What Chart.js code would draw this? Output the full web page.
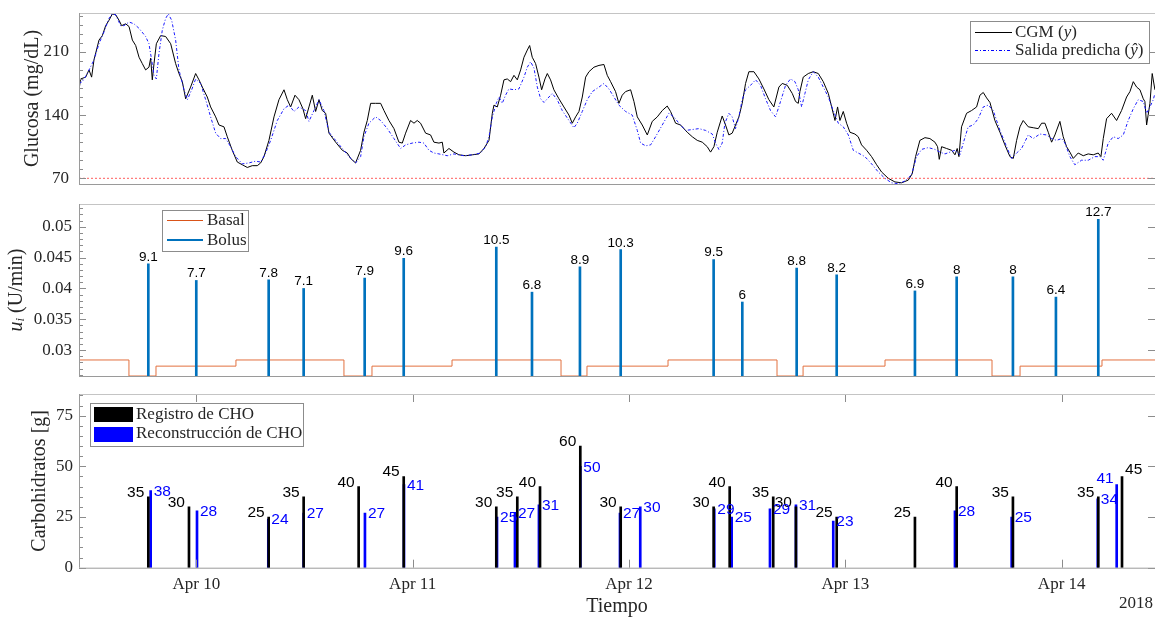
<!DOCTYPE html>
<html>
<head>
<meta charset="utf-8">
<script src="https://cdn.jsdelivr.net/npm/chart.js@4.4.0/dist/chart.umd.min.js"></script>
<style>
  body { margin: 0; background: #fff; }
  canvas { position: absolute; left: 0; }
</style>
</head>
<body>
<canvas id="glucose" width="1155" height="195" style="top:0px"></canvas>
<canvas id="insulin" width="1155" height="195" style="top:195px"></canvas>
<canvas id="carbs" width="1155" height="227" style="top:390px"></canvas>
<script>
// time axis: hours since Apr 9 00:00
const tMin = 10.99, tMax = 130.35;
const dayTicks = [24, 48, 72, 96, 120];
const dayLabels = ['Apr 10', 'Apr 11', 'Apr 12', 'Apr 13', 'Apr 14'];
const yearLabel = '2018';
const hypoLimit = 70;

const glucoseTickLabels = [70, 140, 210];
const uTickLabels = [0.03, 0.035, 0.04, 0.045, 0.05];
const choTickLabels = [0, 25, 50, 75];

// CGM (y)
const cgmTime = [10.99,11.17,11.73,12.10,12.39,12.65,13.21,13.58,13.95,14.32,14.69,15.06,15.43,15.72,16.17,16.54,16.91,17.28,17.65,18.01,
  18.38,18.75,18.94,19.12,19.31,19.57,20.05,20.60,21.16,21.71,22.08,22.45,22.82,23.37,23.93,24.30,24.67,25.22,25.59,26.15,
  26.52,27.07,27.44,27.99,28.55,29.10,29.66,30.21,30.77,31.14,31.51,32.06,32.62,33.17,33.73,34.10,34.47,34.95,35.39,35.83,
  36.13,36.50,36.87,37.24,37.61,37.98,38.35,38.72,39.46,40.20,40.75,41.12,41.67,42.23,42.60,42.97,43.34,43.89,44.45,44.82,
  45.37,45.93,46.48,46.85,47.22,47.77,48.15,48.51,48.88,49.44,49.99,50.36,50.92,
  51.29,51.47,52.03,52.58,53.14,53.88,54.62,55.36,55.91,56.47,56.84,57.02,57.39,57.76,58.13,58.50,58.87,59.24,59.61,59.98,
  60.35,60.72,60.98,61.27,61.64,62.01,62.31,62.68,62.94,63.30,63.67,64.23,64.78,65.34,65.71,66.08,66.45,66.82,67.19,67.56,
  68.11,68.67,69.22,69.59,69.96,70.51,70.88,71.25,71.62,72.18,72.55,72.92,73.47,74.03,74.58,75.14,75.69,76.24,76.61,77.17,
  77.72,78.46,79.02,79.57,80.13,80.68,81.05,81.42,81.79,82.34,82.71,83.08,83.45,83.82,84.19,84.56,84.93,85.30,85.86,86.41,
  86.96,87.52,88.07,88.63,89.00,89.55,90.11,90.48,
  90.78,90.96,91.33,91.89,92.44,93.00,93.55,94.11,94.48,94.85,95.14,95.40,95.77,96.14,96.51,97.06,97.43,97.80,98.36,98.91,
  99.47,100.02,100.76,101.50,102.24,102.98,103.42,103.79,104.27,104.83,105.38,105.94,106.23,106.42,106.68,107.23,107.79,108.16,108.41,108.60,
  108.89,109.45,110.00,110.56,110.93,111.30,111.67,112.04,112.59,113.15,113.70,114.26,114.63,115.00,115.37,115.73,116.29,116.84,117.40,117.77,
  118.14,118.51,118.88,119.25,119.80,120.17,120.54,120.91,121.28,121.83,122.39,122.94,123.50,124.05,124.35,124.61,124.98,125.53,126.09,126.64,
  127.20,127.57,127.94,128.31,128.68,129.05,129.23,129.42,129.79,130.04,130.34];
const cgmValue = [168,180,182,190,182,201,223,228,239,245,252,251,245,239,241,238,223,217,204,197,
  190,193,203,179,197,219,228,227,219,197,186,177,158,171,186,179,171,160,149,138,
  129,127,116,101,88,85,82,84,84,87,94,112,138,157,168,157,149,162,157,147,
  136,149,162,144,157,145,142,120,110,101,98,92,87,101,121,134,153,153,153,145,
  134,125,110,109,120,134,131,134,131,120,118,110,109,
  110,98,103,99,96,95,96,97,103,112,142,151,149,162,179,180,177,184,179,190,
  204,212,217,204,197,182,168,180,186,179,168,158,149,140,131,138,144,160,182,188,
  193,195,196,184,177,166,153,162,166,168,155,138,129,118,133,138,145,150,144,131,
  129,121,116,112,110,105,99,105,121,139,129,118,120,129,138,153,175,188,188,180,
  169,157,149,171,175,173,164,155,
  153,166,182,186,188,186,177,164,149,134,149,134,144,131,121,119,116,107,101,94,
  85,77,70,66,65,68,75,94,112,115,114,110,105,91,105,103,101,96,103,94,
  127,142,145,149,162,165,159,154,134,121,107,94,92,112,127,134,127,126,125,131,
  131,121,110,118,133,116,105,99,92,98,95,97,96,98,94,114,136,142,134,145,
  160,166,177,171,168,158,155,129,153,186,168];

// Salida predicha (y hat)
const predTime = [10.99,11.36,11.91,12.65,13.21,13.76,14.32,14.69,15.06,15.61,15.98,16.54,17.09,17.65,18.38,18.75,19.05,19.31,19.57,19.86,
  20.23,20.60,20.90,21.27,21.71,22.08,22.64,23.01,23.49,23.93,24.48,25.04,25.59,26.15,26.70,27.26,27.81,28.37,29.10,29.84,
  30.58,31.14,31.69,32.25,32.99,33.73,34.28,34.84,35.39,36.13,36.50,37.05,37.61,38.16,38.72,39.46,40.20,40.94,41.67,42.23,
  42.60,43.15,43.89,44.45,45.19,45.93,46.67,47.22,47.96,48.70,49.25,49.81,50.36,50.92,
  51.84,52.58,53.69,54.62,55.54,56.10,56.47,56.84,57.28,57.58,57.94,58.31,58.68,59.24,59.79,60.35,60.72,61.09,61.46,61.83,
  62.20,62.57,62.94,63.49,64.04,64.60,65.34,65.89,66.26,66.82,67.37,67.93,68.67,69.22,69.77,70.33,70.88,71.62,72.36,72.92,
  73.29,73.84,74.40,74.95,75.69,76.43,76.98,77.54,78.28,79.02,79.76,80.50,81.24,81.60,81.97,82.34,82.64,83.08,83.45,83.82,
  84.19,84.56,84.93,85.49,86.04,86.59,87.15,87.70,88.26,88.81,89.37,89.92,
  90.41,90.78,91.15,91.52,91.89,92.44,93.00,93.55,94.11,94.66,95.22,95.77,96.33,96.88,97.43,98.17,98.91,99.65,100.39,101.13,
  101.87,102.61,103.35,103.90,104.46,105.20,105.94,106.49,107.05,107.60,108.16,108.71,109.08,109.63,110.19,110.74,111.30,111.85,112.41,113.15,
  113.89,114.44,115.00,115.55,116.29,116.84,117.58,118.32,118.88,119.43,119.99,120.36,120.91,121.46,122.20,122.94,123.68,124.24,124.61,125.16,
  125.72,126.27,126.83,127.38,127.94,128.49,129.05,129.42,129.79,130.16,130.34];
const predValue = [175,177,186,201,219,232,247,252,251,239,239,243,241,236,227,219,201,184,180,208,
  234,247,252,245,223,190,168,157,168,180,175,157,138,120,114,114,105,94,86,87,
  89,88,98,112,134,147,151,144,149,145,133,145,157,145,121,112,103,94,87,94,
  116,131,138,134,125,114,103,107,109,110,109,101,98,97,
  95,97,95,96,98,105,116,138,153,160,153,162,169,168,169,182,193,199,192,171,
  158,154,158,164,157,145,134,126,131,144,157,166,171,175,169,160,151,144,140,123,
  109,106,107,116,129,142,138,131,123,124,125,123,119,109,102,109,131,142,138,125,
  138,157,168,173,179,173,158,145,138,155,173,180,
  177,168,149,164,179,188,182,171,160,145,131,127,118,101,98,94,86,77,70,65,
  64,67,74,94,102,104,102,99,97,99,101,96,109,127,129,136,149,151,145,123,
  105,92,98,103,118,114,119,118,114,112,114,109,94,85,90,90,94,94,90,109,
  116,114,118,134,147,157,155,142,149,157,164];

// insulin (U/min)
const basalTime = [10.99,16.53,19.53,28.40,40.38,43.49,52.37,64.46,67.34,76.33,88.42,91.31,100.40,112.27,115.38,124.47,130.35];
const basalRate = [0.0284,0.0258,0.0274,0.0284,0.0258,0.0274,0.0284,0.0258,0.0274,0.0284,0.0258,0.0274,0.0284,0.0258,0.0274,0.0284,0.0284];
const bolusTime = [18.68,24.00,32.03,35.91,42.68,47.01,57.28,61.24,66.56,71.08,81.39,84.57,90.60,95.04,103.72,108.35,114.59,119.36,124.06];
const bolusRate = [0.0440,0.0413,0.0414,0.0400,0.0417,0.0449,0.0467,0.0394,0.0435,0.0463,0.0447,0.0378,0.0433,0.0422,0.0396,0.0419,0.0419,0.0386,0.0512];
const bolusUnits = [9.1,7.7,7.8,7.1,7.9,9.6,10.5,6.8,8.9,10.3,9.5,6,8.8,8.2,6.9,8,8,6.4,12.7];

// carbohydrates (g)
const choTime = [18.68,23.19,32.03,35.91,42.01,47.01,57.28,59.61,62.13,66.60,71.08,81.39,83.17,88.00,90.52,95.04,103.72,108.35,114.59,124.06,126.69];
const choGrams = [35,30,25,35,40,45,30,35,40,60,30,30,40,35,30,25,25,40,35,35,45];
const recTime = [18.94,24.08,31.99,35.91,42.71,47.04,57.36,59.35,62.01,66.60,71.00,73.25,81.46,83.39,87.64,90.52,94.66,108.16,114.45,124.00,126.10];
const recGrams = [38,28,24,27,27,41,25,27,31,50,27,30,29,25,29,31,23,28,25,34,41];

const SERIF = '"Liberation Serif", "Times New Roman", serif';
const SANS = '"Liberation Sans", Arial, sans-serif';
const TEXT = '#262626';

Chart.defaults.font.family = SERIF;
Chart.defaults.color = TEXT;

function pts(xs, ys) {
  return xs.map((x, i) => ({x: x, y: ys[i]}));
}
function range(a, b, step) {
  const out = [];
  for (let v = a; v <= b + 1e-9; v += step) out.push(v);
  return out;
}

// box + inward tick marks (major from the scale, minor from options)
const framePlugin = {
  id: 'frame',
  afterDraw(chart, args, opts) {
    const {ctx, chartArea: a, scales} = chart;
    ctx.save();
    ctx.lineWidth = 1;
    ctx.strokeStyle = '#8c8c8c';
    ctx.beginPath();
    (opts.minor || []).forEach(v => {
      const py = Math.round(scales.y.getPixelForValue(v)) + 0.5;
      ctx.moveTo(a.left, py);
      ctx.lineTo(a.left + 4, py);
    });
    scales.y.ticks.forEach(t => {
      const py = Math.round(scales.y.getPixelForValue(t.value)) + 0.5;
      ctx.moveTo(a.left, py);
      ctx.lineTo(a.left + 7, py);
      ctx.moveTo(a.right, py);
      ctx.lineTo(a.right - 7, py);
    });
    if (opts.xTicks) {
      dayTicks.forEach(t => {
        const px = Math.round(scales.x.getPixelForValue(t)) + 0.5;
        ctx.moveTo(px, a.bottom);
        ctx.lineTo(px, a.bottom - 8);
        ctx.moveTo(px, a.top);
        ctx.lineTo(px, a.top + 8);
      });
    }
    ctx.stroke();
    ctx.strokeStyle = '#c4c4c4';
    ctx.beginPath();
    ctx.moveTo(a.left, a.top + 0.5);
    ctx.lineTo(a.right, a.top + 0.5);
    ctx.stroke();
    ctx.strokeStyle = '#9a9a9a';
    ctx.beginPath();
    ctx.moveTo(a.left + 0.5, a.top);
    ctx.lineTo(a.left + 0.5, a.bottom);
    ctx.moveTo(a.left, a.bottom + 0.5);
    ctx.lineTo(a.right, a.bottom + 0.5);
    ctx.stroke();
    ctx.restore();
  }
};

function drawParts(ctx, parts, x, y, size) {
  parts.forEach(([txt, italic]) => {
    ctx.font = (italic ? 'italic ' : '') + size + 'px ' + SERIF;
    ctx.fillText(txt, x, y);
    x += ctx.measureText(txt).width;
  });
}
function legendBox(ctx, x, y, w, h) {
  ctx.fillStyle = '#fff';
  ctx.fillRect(x, y, w, h);
  ctx.strokeStyle = '#8c8c8c';
  ctx.lineWidth = 1;
  ctx.strokeRect(x + 0.5, y + 0.5, w, h);
}

const common = {
  responsive: false,
  devicePixelRatio: 1,
  animation: false,
  events: [],
  plugins: { legend: { display: false }, tooltip: { enabled: false } }
};

function xScale(show) {
  const s = {
    type: 'linear',
    min: tMin,
    max: tMax,
    offset: false,
    display: show,
    grid: { display: false, drawTicks: false },
    border: { display: false },
    afterBuildTicks: sc => { sc.ticks = dayTicks.map(v => ({value: v})); },
    ticks: {
      autoSkip: false,
      maxRotation: 0,
      padding: 7,
      font: { size: 17 },
      callback: (v, i) => dayLabels[i]
    },
    title: { display: show, text: 'Tiempo', font: { size: 20, lineHeight: 1 }, padding: { top: 0, bottom: 0 } }
  };
  if (show) s.afterFit = sc => { sc.height = 49.3; };
  return s;
}

function yScale(min, max, labels, title, titlePad, tickPad) {
  return {
    type: 'linear',
    min: min,
    max: max,
    grid: { display: false, drawTicks: false },
    border: { display: false },
    afterBuildTicks: s => { s.ticks = labels.map(v => ({value: v})); },
    afterFit: s => { s.width = 79; s.paddingTop = 0; s.paddingBottom = 0; },
    ticks: {
      autoSkip: false,
      padding: tickPad,
      font: { size: 17 },
      callback: v => String(v)
    },
    title: {
      display: title !== null,
      text: title || '',
      font: { size: 20 },
      padding: { top: titlePad, bottom: 0 }
    }
  };
}

// ---------- Glucose ----------
const glucoseLegend = {
  id: 'glucoseLegend',
  afterDraw(chart) {
    const ctx = chart.ctx;
    ctx.save();
    legendBox(ctx, 970, 21, 179, 42);
    ctx.lineWidth = 1;
    ctx.strokeStyle = '#000';
    ctx.beginPath();
    ctx.moveTo(975, 32.5); ctx.lineTo(1012, 32.5);
    ctx.stroke();
    ctx.strokeStyle = '#0000ff';
    ctx.setLineDash([3, 2, 1, 2]);
    ctx.beginPath();
    ctx.moveTo(975, 50.5); ctx.lineTo(1012, 50.5);
    ctx.stroke();
    ctx.setLineDash([]);
    ctx.fillStyle = TEXT;
    ctx.textBaseline = 'middle';
    drawParts(ctx, [['CGM (', false], ['y', true], [')', false]], 1015, 33, 17);
    drawParts(ctx, [['Salida predicha (', false], ['\u0177', true], [')', false]], 1015, 51, 17);
    ctx.restore();
  }
};

new Chart(document.getElementById('glucose'), {
  type: 'line',
  data: {
    datasets: [
      { data: pts(cgmTime, cgmValue), borderColor: '#000', borderWidth: 1, pointRadius: 0, order: 3 },
      { data: pts(predTime, predValue), borderColor: '#1a1aff', borderWidth: 1, borderDash: [3, 2, 1, 2], pointRadius: 0, order: 2 },
      { data: [{x: tMin, y: hypoLimit}, {x: tMax, y: hypoLimit}], borderColor: 'rgba(255,40,40,0.75)', borderWidth: 1, borderDash: [2, 2], pointRadius: 0, order: 1 }
    ]
  },
  options: {
    ...common,
    layout: { padding: { top: 13, bottom: 11, left: 0, right: 0 } },
    scales: {
      x: xScale(false),
      y: yScale(63.7, 253, glucoseTickLabels, 'Glucosa (mg/dL)', 20.5, 10)
    },
    plugins: { ...common.plugins, frame: { minor: range(80, 250, 10) } }
  },
  plugins: [framePlugin, glucoseLegend]
});

// ---------- Insulin ----------
const insulinExtras = {
  id: 'insulinExtras',
  afterDatasetsDraw(chart) {
    const {ctx, scales: {x, y}} = chart;
    ctx.save();
    ctx.font = '13.5px ' + SANS;
    ctx.fillStyle = '#000';
    ctx.textAlign = 'center';
    ctx.textBaseline = 'alphabetic';
    bolusTime.forEach((t, i) => {
      ctx.fillText(String(bolusUnits[i]), x.getPixelForValue(t), y.getPixelForValue(bolusRate[i]) - 3);
    });
    ctx.restore();
  },
  afterDraw(chart) {
    const ctx = chart.ctx;
    ctx.save();
    // y title: italic u with subscript i
    ctx.translate(17, (chart.chartArea.top + chart.chartArea.bottom) / 2);
    ctx.rotate(-Math.PI / 2);
    ctx.fillStyle = TEXT;
    ctx.textBaseline = 'middle';
    const parts = [['u', true, 20, 0], ['i', true, 13, 4], [' (U/min)', false, 20, 0]];
    let w = 0;
    parts.forEach(p => { ctx.font = (p[1] ? 'italic ' : '') + p[2] + 'px ' + SERIF; w += ctx.measureText(p[0]).width; });
    let px = -w / 2;
    parts.forEach(p => {
      ctx.font = (p[1] ? 'italic ' : '') + p[2] + 'px ' + SERIF;
      ctx.fillText(p[0], px, p[3]);
      px += ctx.measureText(p[0]).width;
    });
    ctx.restore();

    // legend (canvas starts at y=195)
    ctx.save();
    legendBox(ctx, 162, 15, 86, 41);
    ctx.strokeStyle = '#D95319';
    ctx.lineWidth = 1;
    ctx.beginPath();
    ctx.moveTo(167, 25.5); ctx.lineTo(203, 25.5);
    ctx.stroke();
    ctx.strokeStyle = '#0072BD';
    ctx.lineWidth = 2;
    ctx.beginPath();
    ctx.moveTo(167, 45); ctx.lineTo(203, 45);
    ctx.stroke();
    ctx.fillStyle = TEXT;
    ctx.textBaseline = 'middle';
    drawParts(ctx, [['Basal', false]], 207, 26, 17);
    drawParts(ctx, [['Bolus', false]], 207, 46, 17);
    ctx.restore();
  }
};

new Chart(document.getElementById('insulin'), {
  type: 'bar',
  data: {
    datasets: [
      { type: 'bar', data: pts(bolusTime, bolusRate), backgroundColor: '#0072BD', barThickness: 2, grouped: false },
      { type: 'line', data: pts(basalTime, basalRate), borderColor: '#E2703F', borderWidth: 1, stepped: true, pointRadius: 0 }
    ]
  },
  options: {
    ...common,
    layout: { padding: { top: 9, bottom: 14, left: 0, right: 0 } },
    scales: {
      x: xScale(false),
      y: yScale(0.0258, 0.0537, uTickLabels, null, 0, 7)
    },
    plugins: { ...common.plugins, frame: { minor: range(26, 53, 1).map(v => v / 1000) } }
  },
  plugins: [framePlugin, insulinExtras]
});

// ---------- Carbohydrates ----------
const carbExtras = {
  id: 'carbExtras',
  afterDatasetsDraw(chart) {
    const {ctx, scales: {x, y}} = chart;
    ctx.save();
    ctx.font = '15.5px ' + SANS;
    const lastCho = choTime.length - 1;
    ctx.fillStyle = '#000';
    ctx.textBaseline = 'alphabetic';
    choTime.forEach((t, i) => {
      const px = x.getPixelForValue(t), py = y.getPixelForValue(choGrams[i]);
      if (i === lastCho) { ctx.textAlign = 'left'; ctx.fillText(String(choGrams[i]), px + 3, py - 2); }
      else { ctx.textAlign = 'right'; ctx.fillText(String(choGrams[i]), px - 4, py); }
    });
    const lastRec = recTime.length - 1;
    ctx.fillStyle = '#0000ff';
    recTime.forEach((t, i) => {
      const px = x.getPixelForValue(t), py = y.getPixelForValue(recGrams[i]);
      if (i === lastRec) {
        ctx.textAlign = 'right'; ctx.textBaseline = 'alphabetic';
        ctx.fillText(String(recGrams[i]), px - 3, py - 2);
      } else {
        ctx.textAlign = 'left'; ctx.textBaseline = 'middle';
        ctx.fillText(String(recGrams[i]), px + 3, py + 1);
      }
    });
    ctx.restore();
  },
  afterDraw(chart) {
    const ctx = chart.ctx;
    // legend (canvas starts at y=390)
    ctx.save();
    legendBox(ctx, 90, 13, 213, 43);
    ctx.fillStyle = '#000';
    ctx.fillRect(94, 17, 39, 15);
    ctx.fillStyle = '#0000ff';
    ctx.fillRect(94, 37, 39, 15);
    ctx.fillStyle = TEXT;
    ctx.textBaseline = 'middle';
    drawParts(ctx, [['Registro de CHO', false]], 136, 25, 17);
    drawParts(ctx, [['Reconstrucci\u00f3n de CHO', false]], 136, 44, 17);
    ctx.textAlign = 'right';
    ctx.font = '17px ' + SERIF;
    ctx.fillText(yearLabel, 1153, 214);
    ctx.restore();
  }
};

new Chart(document.getElementById('carbs'), {
  type: 'bar',
  data: {
    datasets: [
      { data: pts(choTime, choGrams), backgroundColor: '#000', barThickness: 2, grouped: false },
      { data: pts(recTime, recGrams), backgroundColor: '#0000ff', barThickness: 2, grouped: false }
    ]
  },
  options: {
    ...common,
    layout: { padding: { top: 4, bottom: 0, left: 0, right: 0 } },
    scales: {
      x: xScale(true),
      y: yScale(0, 85.7, choTickLabels, 'Carbohidratos [g]', 28, 6)
    },
    plugins: { ...common.plugins, frame: { xTicks: true, minor: range(5, 85, 5) } }
  },
  plugins: [framePlugin, carbExtras]
});
</script>
</body>
</html>
